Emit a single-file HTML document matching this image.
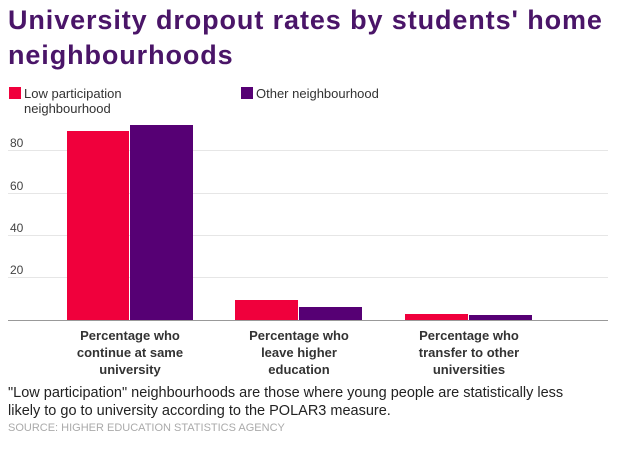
<!DOCTYPE html>
<html><head><style>
body{margin:0;width:640px;height:449px;background:#fff;font-family:"Liberation Sans",sans-serif;position:relative;overflow:hidden}
.a{position:absolute}
.t{left:8px;top:3px;font-size:27px;font-weight:bold;line-height:35px;color:#4a1568;width:636px;letter-spacing:0.9px}
.lg{font-size:13px;color:#333;line-height:15px}
.g{left:8px;width:600px;height:1px;background:#e6e6e6}
.yl{left:10px;font-size:12px;color:#444}
.cat{font-size:13px;font-weight:bold;color:#333;text-align:center;line-height:17px;width:124px}
.note{left:8px;top:384px;font-size:14.5px;color:#222;line-height:18px}
.src{left:8px;top:422px;font-size:11px;color:#aaa}
</style></head><body>
<div class="a t">University dropout rates by students' home neighbourhoods</div>
<div class="a" style="left:9px;top:87px;width:12px;height:12px;background:#f0003c"></div>
<div class="a lg" style="left:24px;top:86px">Low participation<br>neighbourhood</div>
<div class="a" style="left:241px;top:87px;width:12px;height:12px;background:#560074"></div>
<div class="a lg" style="left:256px;top:86px">Other neighbourhood</div>
<div class="a g" style="top:150px"></div><div class="a yl" style="top:136px">80</div>
<div class="a g" style="top:193px"></div><div class="a yl" style="top:179px">60</div>
<div class="a g" style="top:235px"></div><div class="a yl" style="top:221px">40</div>
<div class="a g" style="top:277px"></div><div class="a yl" style="top:263px">20</div>
<div class="a" style="left:67px;top:131px;width:62px;height:189px;background:#f0003c"></div>
<div class="a" style="left:130px;top:125px;width:63px;height:195px;background:#560074"></div>
<div class="a" style="left:235px;top:300px;width:63px;height:20px;background:#f0003c"></div>
<div class="a" style="left:299px;top:307px;width:63px;height:13px;background:#560074"></div>
<div class="a" style="left:405px;top:314px;width:63px;height:6px;background:#f0003c"></div>
<div class="a" style="left:469px;top:315px;width:63px;height:5px;background:#560074"></div>
<div class="a" style="left:8px;top:320px;width:600px;height:1px;background:#999"></div>
<div class="a cat" style="left:68px;top:327px">Percentage who continue at same university</div>
<div class="a cat" style="left:237px;top:327px">Percentage who leave higher education</div>
<div class="a cat" style="left:407px;top:327px">Percentage who transfer to other universities</div>
<div class="a note">"Low participation" neighbourhoods are those where young people are statistically less<br>likely to go to university according to the POLAR3 measure.</div>
<div class="a src">SOURCE: HIGHER EDUCATION STATISTICS AGENCY</div>
</body></html>
